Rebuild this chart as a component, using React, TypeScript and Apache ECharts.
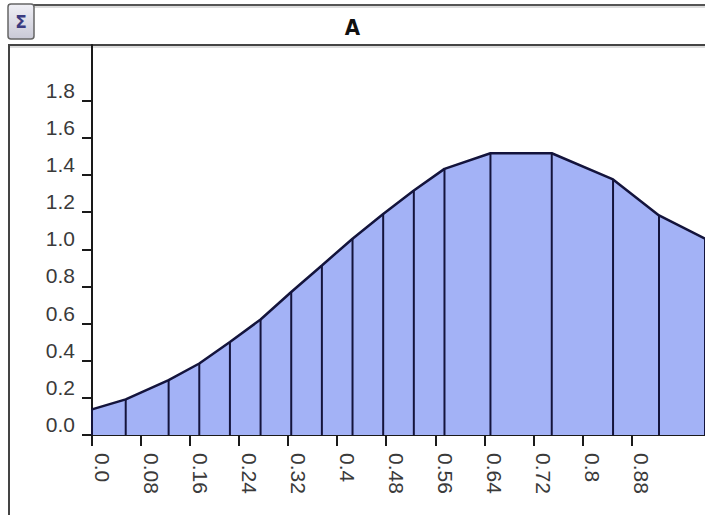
import React, { useEffect, useRef } from "react";
import * as echarts from "echarts";

const xValues = [0, 0.055, 0.125, 0.175, 0.225, 0.275, 0.325, 0.375, 0.425, 0.475, 0.525, 0.575, 0.65, 0.75, 0.85, 0.925, 1.0];
const yValues = [0.138, 0.192, 0.296, 0.385, 0.501, 0.622, 0.77, 0.913, 1.057, 1.19, 1.316, 1.433, 1.517, 1.517, 1.376, 1.182, 1.057];
const xTicks = [0, 0.08, 0.16, 0.24, 0.32, 0.4, 0.48, 0.56, 0.64, 0.72, 0.8, 0.88];
const yTicks = [0, 0.2, 0.4, 0.6, 0.8, 1.0, 1.2, 1.4, 1.6, 1.8];
const title = "A";

const LINE = "#14143c";
const FILL = "#a3b2f6";

export default function App() {
  const ref = useRef<HTMLDivElement>(null);
  useEffect(() => {
    document.body.style.margin = "0";
    const chart = echarts.init(ref.current!, null, { renderer: "svg" });
    const pts = xValues.map((x, i) => [x, yValues[i]]);
    chart.setOption({
      animation: false,
      backgroundColor: "#ffffff",
      title: {
        text: title,
        left: "center",
        top: 11,
        textStyle: { fontFamily: "DejaVu Sans Condensed", fontWeight: "bold", fontSize: 22, color: "#111" },
      },
      graphic: [
        { type: "line", shape: { x1: 8, y1: 5, x2: 705, y2: 5 }, style: { stroke: "#555", lineWidth: 2 } },
        { type: "line", shape: { x1: 8, y1: 7, x2: 705, y2: 7 }, style: { stroke: "#bbb", lineWidth: 1 } },
        { type: "line", shape: { x1: 8, y1: 45, x2: 705, y2: 45 }, style: { stroke: "#444", lineWidth: 2 } },
        { type: "line", shape: { x1: 8, y1: 47, x2: 705, y2: 47 }, style: { stroke: "#bbb", lineWidth: 1 } },
        { type: "line", shape: { x1: 9, y1: 45, x2: 9, y2: 515 }, style: { stroke: "#444", lineWidth: 2 } },
        {
          type: "rect",
          shape: { x: 8, y: 4, width: 26, height: 35, r: 3 },
          style: {
            fill: new echarts.graphic.LinearGradient(0, 0, 0, 1, [
              { offset: 0, color: "#f0f0f6" },
              { offset: 1, color: "#c9c9d6" },
            ]),
            stroke: "#666",
            lineWidth: 1.5,
          },
        },
        {
          type: "text",
          x: 21,
          y: 22,
          style: {
            text: "Σ",
            fill: "#3b3b80",
            font: "bold 17px 'DejaVu Sans'",
            align: "center",
            verticalAlign: "middle",
          },
        },
      ],
      grid: { left: 92, right: 0, top: 45, bottom: 80, containLabel: false },
      xAxis: {
        type: "value",
        min: 0,
        max: 1.0,
        splitLine: { show: false },
        axisLine: { show: true, onZero: false, lineStyle: { color: "#1a1a1a", width: 2 } },
        axisTick: { show: true, length: 11, customValues: xTicks, lineStyle: { color: "#1a1a1a", width: 2 } },
        axisLabel: {
          show: true,
          customValues: xTicks,
          rotate: -90,
          margin: 18,
          verticalAlign: "bottom",
          fontFamily: "Liberation Sans",
          fontSize: 21,
          color: "#3a3a3a",
          formatter: (v: number) => (v === 0 ? "0.0" : String(+v.toFixed(2))),
        },
      },
      yAxis: {
        type: "value",
        min: 0,
        max: 2.1,
        splitLine: { show: false },
        axisLine: { show: true, lineStyle: { color: "#1a1a1a", width: 2 } },
        axisTick: { show: true, length: 10, customValues: yTicks, lineStyle: { color: "#1a1a1a", width: 2 } },
        axisLabel: {
          show: true,
          customValues: yTicks,
          margin: 17,
          verticalAlign: "bottom",
          fontFamily: "Liberation Sans",
          fontSize: 21,
          color: "#3a3a3a",
          formatter: (v: number) => v.toFixed(1),
        },
      },
      series: [
        {
          type: "line",
          data: pts,
          symbol: "none",
          lineStyle: { color: LINE, width: 2.5 },
          areaStyle: { color: FILL, opacity: 1 },
          z: 2,
        },
        {
          type: "custom",
          data: pts,
          z: 3,
          renderItem: (params: any, api: any) => {
            const p0 = api.coord([api.value(0), 0]);
            const p1 = api.coord([api.value(0), api.value(1)]);
            return {
              type: "line",
              shape: { x1: p0[0], y1: p0[1], x2: p1[0], y2: p1[1] },
              style: { stroke: LINE, lineWidth: 2 },
            };
          },
        },
      ],
    });
    return () => chart.dispose();
  }, []);
  return <div ref={ref} style={{ position: "fixed", left: 0, top: 0, width: 705, height: 515 }} />;
}
